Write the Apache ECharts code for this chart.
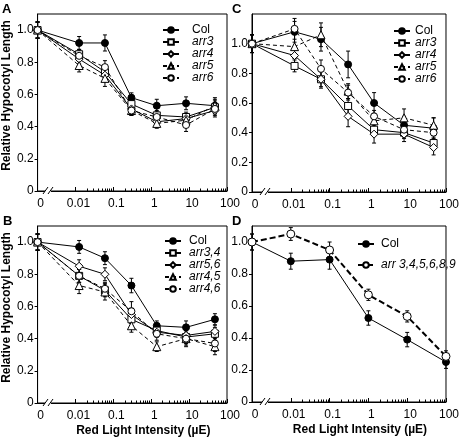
<!DOCTYPE html>
<html><head><meta charset="utf-8">
<script src="https://cdn.jsdelivr.net/npm/echarts@6/dist/echarts.min.js"></script>
<style>html,body{margin:0;padding:0;background:#fff}#c{width:462px;height:440px}</style>
</head><body><div id="c"></div>
<script>
// ---------- data ----------
const lightABC = [0, 0.0125, 0.06, 0.3, 1.4, 8.3, 48];
const lightD = [0, 0.01, 0.1, 1, 10, 100];
const xTickLabels = ['0', '0.01', '0.1', '1', '10', '100'];
const yTickValues = [0, 0.2, 0.4, 0.6, 0.8, 1.0];

const A_Col  = [1.0, 0.92, 0.92, 0.58, 0.53, 0.545, 0.53];
const A_arr3 = [1.0, 0.85, 0.74, 0.54, 0.47, 0.46, 0.52];
const A_arr4 = [1.0, 0.82, 0.72, 0.51, 0.43, 0.45, 0.50];
const A_arr5 = [1.0, 0.78, 0.70, 0.50, 0.42, 0.44, 0.53];
const A_arr6 = [1.0, 0.84, 0.77, 0.50, 0.46, 0.41, 0.51];
const A_Col_err  = [0.05, 0.04, 0.05, 0.03, 0.04, 0.04, 0.04];
const A_arr3_err = [0.05, 0.03, 0.03, 0.03, 0.03, 0.03, 0.04];
const A_arr4_err = [0.05, 0.03, 0.04, 0.03, 0.03, 0.03, 0.04];
const A_arr5_err = [0.05, 0.04, 0.05, 0.03, 0.03, 0.03, 0.05];
const A_arr6_err = [0.05, 0.03, 0.04, 0.03, 0.03, 0.04, 0.04];

const B_Col   = [1.0, 0.97, 0.90, 0.73, 0.48, 0.47, 0.52];
const B_arr34 = [1.0, 0.79, 0.70, 0.52, 0.45, 0.41, 0.43];
const B_arr56 = [1.0, 0.85, 0.80, 0.55, 0.44, 0.42, 0.445];
const B_arr45 = [1.0, 0.73, 0.69, 0.48, 0.35, 0.40, 0.35];
const B_arr46 = [1.0, 0.79, 0.71, 0.57, 0.43, 0.40, 0.37];
const B_Col_err   = [0.05, 0.04, 0.04, 0.045, 0.03, 0.04, 0.035];
const B_arr34_err = [0.05, 0.04, 0.04, 0.04, 0.04, 0.04, 0.04];
const B_arr56_err = [0.05, 0.04, 0.04, 0.04, 0.03, 0.04, 0.04];
const B_arr45_err = [0.05, 0.05, 0.05, 0.04, 0.03, 0.05, 0.05];
const B_arr46_err = [0.05, 0.04, 0.04, 0.06, 0.04, 0.04, 0.05];

const C_Col  = [1.0, 1.08, 1.03, 0.86, 0.60, 0.45, 0.43];
const C_arr3 = [1.0, 0.85, 0.76, 0.58, 0.42, 0.40, 0.33];
const C_arr4 = [1.0, 0.92, 0.76, 0.51, 0.39, 0.39, 0.30];
const C_arr5 = [1.0, 0.98, 1.06, 0.68, 0.48, 0.50, 0.45];
const C_arr6 = [1.0, 1.10, 0.83, 0.67, 0.51, 0.42, 0.40];
const C_Col_err  = [0.06, 0.07, 0.08, 0.09, 0.07, 0.06, 0.07];
const C_arr3_err = [0.06, 0.04, 0.05, 0.05, 0.04, 0.04, 0.04];
const C_arr4_err = [0.06, 0.05, 0.06, 0.07, 0.06, 0.05, 0.05];
const C_arr5_err = [0.06, 0.08, 0.08, 0.05, 0.05, 0.06, 0.05];
const C_arr6_err = [0.06, 0.07, 0.06, 0.05, 0.04, 0.05, 0.05];

const D_Col = [1.0, 0.88, 0.89, 0.525, 0.39, 0.25];
const D_arr = [1.0, 1.05, 0.95, 0.67, 0.535, 0.285];
const D_Col_err = [0.05, 0.05, 0.06, 0.045, 0.045, 0.04];
const D_arr_err = [0.05, 0.04, 0.05, 0.035, 0.035, 0.035];

// ---------- presentation ----------
const FONT = '"Liberation Sans", Arial, Helvetica, sans-serif';
const ZERO_POS = -3;               // axis position (log10 units) used for intensity 0
function lx(v) { return v === 0 ? ZERO_POS : Math.log10(v); }

const ST = {
  col: { symbol: 'circle', size: 7, filled: true, dash: 'solid', w: 1 },
  sq:  { symbol: 'rect', size: 7, filled: false, dash: 'solid', w: 1 },
  dia: { symbol: 'diamond', size: 8, filled: false, dash: 'solid', w: 1 },
  tri: { symbol: 'triangle', size: 8, filled: false, dash: [4, 3], w: 1 },
  cir: { symbol: 'circle', size: 7, filled: false, dash: [4, 3], w: 1 },
  cirD:{ symbol: 'circle', size: 8, filled: false, dash: [6, 3], w: 2 }
};

const panels = [
  { key: 'A', grid: { left: 35, top: 14, width: 192, height: 177 }, ymax: 1.1, x: lightABC, yTitle: true, xTitle: false,
    legend: { left: 162, top: 24, pad: 8, gap: 0 }, title: { left: 2, top: 3 },
    series: [
      { name: 'Col', y: A_Col, e: A_Col_err, st: 'col' },
      { name: 'arr3', y: A_arr3, e: A_arr3_err, st: 'sq' },
      { name: 'arr4', y: A_arr4, e: A_arr4_err, st: 'dia' },
      { name: 'arr5', y: A_arr5, e: A_arr5_err, st: 'tri' },
      { name: 'arr6', y: A_arr6, e: A_arr6_err, st: 'cir' } ] },
  { key: 'B', grid: { left: 35, top: 226, width: 192, height: 177 }, ymax: 1.1, x: lightABC, yTitle: true, xTitle: true,
    legend: { left: 164, top: 235, pad: 3, gap: 0 }, title: { left: 3, top: 215 },
    series: [
      { name: 'Col', y: B_Col, e: B_Col_err, st: 'col' },
      { name: 'arr3,4', y: B_arr34, e: B_arr34_err, st: 'sq' },
      { name: 'arr5,6', y: B_arr56, e: B_arr56_err, st: 'dia' },
      { name: 'arr4,5', y: B_arr45, e: B_arr45_err, st: 'tri' },
      { name: 'arr4,6', y: B_arr46, e: B_arr46_err, st: 'cir' } ] },
  { key: 'C', grid: { left: 252, top: 14, width: 197, height: 178 }, ymax: 1.2, x: lightABC, yTitle: false, xTitle: false,
    legend: { left: 393, top: 25, pad: 0, gap: 0 }, title: { left: 232, top: 3 },
    series: [
      { name: 'Col', y: C_Col, e: C_Col_err, st: 'col' },
      { name: 'arr3', y: C_arr3, e: C_arr3_err, st: 'sq' },
      { name: 'arr4', y: C_arr4, e: C_arr4_err, st: 'dia' },
      { name: 'arr5', y: C_arr5, e: C_arr5_err, st: 'tri' },
      { name: 'arr6', y: C_arr6, e: C_arr6_err, st: 'cir' } ] },
  { key: 'D', grid: { left: 252, top: 226, width: 197, height: 176 }, ymax: 1.1, x: lightD, yTitle: false, xTitle: true,
    legend: { left: 357, top: 238, pad: 2, gap: 9 }, title: { left: 232, top: 215 },
    series: [
      { name: 'Col', y: D_Col, e: D_Col_err, st: 'col' },
      { name: 'arr 3,4,5,6,8,9', y: D_arr, e: D_arr_err, st: 'cirD' } ] }
];

const majorTicks = [-2, -1, 0, 1, 2];
const minorTicks = [];
for (let d = -2; d < 2; d++) for (let k = 2; k <= 9; k++) minorTicks.push(d + Math.log10(k));
const labelPos = xTickLabels.map((_, i) => ZERO_POS + i);

function errRender(params, api) {
  const x = api.value(0), y = api.value(1), e = api.value(2);
  const hi = api.coord([x, y + e]), lo = api.coord([x, y - e]);
  const w = 2;
  const st = { stroke: '#000', lineWidth: 1 };
  return { type: 'group', children: [
    { type: 'line', shape: { x1: hi[0], y1: hi[1], x2: lo[0], y2: lo[1] }, style: st },
    { type: 'line', shape: { x1: hi[0] - w, y1: hi[1], x2: hi[0] + w, y2: hi[1] }, style: st },
    { type: 'line', shape: { x1: lo[0] - w, y1: lo[1], x2: lo[0] + w, y2: lo[1] }, style: st } ] };
}

const grids = [], xAxes = [], yAxes = [], series = [], legends = [], titles = [], graphics = [];
panels.forEach((p, i) => {
  grids.push(Object.assign({ show: true, borderColor: '#000', borderWidth: 1, containLabel: false }, p.grid));
  xAxes.push({
    type: 'value', gridIndex: i, min: ZERO_POS, max: 2, position: 'bottom',
    axisLine: { show: true, onZero: false, lineStyle: { color: '#000', width: 1 } },
    axisTick: { show: true, inside: true, length: 4, customValues: majorTicks, lineStyle: { color: '#000' } },
    axisLabel: { show: true, customValues: labelPos, margin: 7, color: '#000', fontSize: 12, fontFamily: FONT,
      padding: [0, 0, 0, 6],
      formatter: v => xTickLabels[Math.round(v - ZERO_POS)] },
    splitLine: { show: false },
    name: p.xTitle ? 'Red Light Intensity (\u00b5E)' : '',
    nameLocation: 'middle', nameGap: 22,
    nameTextStyle: { color: '#000', fontSize: 12, fontWeight: 'bold', fontFamily: FONT, padding: [0, 0, 0, 22] }
  });
  xAxes.push({
    type: 'value', gridIndex: i, min: ZERO_POS, max: 2, position: 'bottom',
    axisLine: { show: false, onZero: false },
    axisTick: { show: true, inside: true, length: 2.5, customValues: minorTicks, lineStyle: { color: '#000' } },
    axisLabel: { show: false }, splitLine: { show: false }
  });
  yAxes.push({
    type: 'value', gridIndex: i, min: 0, max: p.ymax, position: 'left',
    axisLine: { show: true, onZero: false, lineStyle: { color: '#000', width: 1 } },
    axisTick: { show: true, inside: false, length: 3, customValues: yTickValues, lineStyle: { color: '#000' } },
    axisLabel: { customValues: yTickValues, margin: 4, color: '#000', fontSize: 12, fontFamily: FONT,
      formatter: v => (Math.abs(v) < 1e-9 ? '0' : v.toFixed(1)) },
    splitLine: { show: false },
    name: p.yTitle ? 'Relative Hypocotyl Length' : '',
    nameLocation: 'middle', nameGap: 22,
    nameTextStyle: { color: '#000', fontSize: 12, fontWeight: 'bold', fontFamily: FONT, padding: [0, 0, 0, 14] }
  });
  p.series.forEach(s => {
    const st = ST[s.st];
    series.push({
      type: 'line', name: s.name, xAxisIndex: 2 * i, yAxisIndex: i, z: 3,
      data: p.x.map((v, j) => [lx(v), s.y[j]]),
      symbol: st.symbol, symbolSize: st.size, showSymbol: true,
      lineStyle: { color: '#000', width: st.w, type: st.dash },
      itemStyle: { color: st.filled ? '#000' : '#fff', borderColor: '#000', borderWidth: 1 },
      emphasis: { disabled: true }, silent: true
    });
    series.push({
      type: 'custom', xAxisIndex: 2 * i, yAxisIndex: i, z: 2,
      renderItem: errRender, encode: { x: 0, y: 1 },
      data: p.x.map((v, j) => [lx(v), s.y[j], s.e[j]]), silent: true
    });
  });
  legends.push({
    data: p.series.map(s => s.name), orient: 'vertical', left: p.legend.left, top: p.legend.top,
    itemWidth: 16, itemHeight: 7, itemGap: p.legend.gap, selectedMode: false, padding: 0,
    formatter: n => (n === 'Col' ? '{n|' + n + '}' : '{i|' + n + '}'),
    textStyle: { color: '#000', fontFamily: FONT, fontSize: 12, padding: [0, 0, 0, p.legend.pad],
      rich: { n: { fontSize: 12, fontFamily: FONT, color: '#000', lineHeight: 14 },
              i: { fontSize: 12, fontFamily: FONT, color: '#000', fontStyle: 'italic', lineHeight: 14 } } }
  });
  titles.push({ text: p.key, left: p.title.left, top: p.title.top, padding: 0,
    textStyle: { color: '#000', fontSize: 13, fontWeight: 'bold', fontFamily: FONT } });
  // axis break marks "//"
  const bx = p.grid.left, by = p.grid.top + p.grid.height;
  graphics.push({ type: 'rect', z: 100, shape: { x: bx + 10, y: by - 2, width: 6, height: 4 }, style: { fill: '#fff' } });
  graphics.push({ type: 'line', z: 101, shape: { x1: bx + 8, y1: by + 3, x2: bx + 13, y2: by - 4 }, style: { stroke: '#000', lineWidth: 1 } });
  graphics.push({ type: 'line', z: 101, shape: { x1: bx + 13, y1: by + 3, x2: bx + 18, y2: by - 4 }, style: { stroke: '#000', lineWidth: 1 } });
});

const chart = echarts.init(document.getElementById('c'), null, { renderer: 'canvas' });
chart.setOption({
  animation: false, backgroundColor: '#fff',
  title: titles, grid: grids, xAxis: xAxes, yAxis: yAxes, legend: legends, series: series, graphic: graphics
});
</script></body></html>
